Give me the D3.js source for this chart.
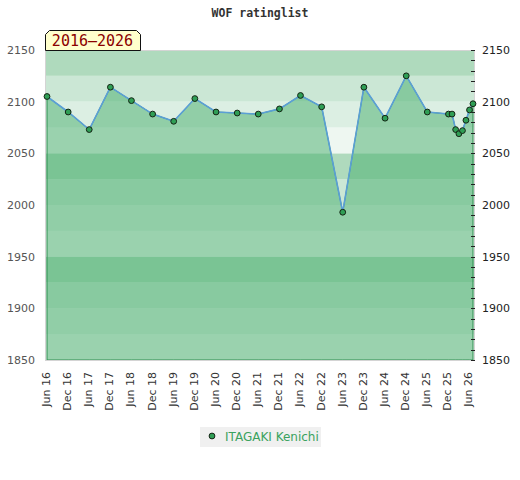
<!DOCTYPE html>
<html>
<head>
<meta charset="utf-8">
<script src="https://cdn.jsdelivr.net/npm/d3@7/dist/d3.min.js"></script>
<style>
html,body{margin:0;padding:0;background:#fff;}
svg{display:block;}
</style>
</head>
<body>
<svg id="chart" width="520" height="480"></svg>
<script>
// ---- data ----
const dates = ["2016-06","2016-12","2017-06","2017-12","2018-06","2018-12","2019-06","2019-12",
  "2020-06","2020-12","2021-06","2021-12","2022-06","2022-12","2023-06","2023-12","2024-06",
  "2024-12","2025-06","2025-12","2026-01","2026-02","2026-03","2026-04","2026-05","2026-06","2026-07"];
const ratings = [2105,2090,2073,2114,2101,2088,2081,2103,2090,2089,2088,2093,2106,2095,1993,2114,2084,
  2125,2090,2088,2088,2073,2069,2072,2082,2092,2098];
const xTickDates = ["2016-06","2016-12","2017-06","2017-12","2018-06","2018-12","2019-06","2019-12",
  "2020-06","2020-12","2021-06","2021-12","2022-06","2022-12","2023-06","2023-12","2024-06",
  "2024-12","2025-06","2025-12","2026-06"];
const xTickLabels = ["Jun 16","Dec 16","Jun 17","Dec 17","Jun 18","Dec 18","Jun 19","Dec 19",
  "Jun 20","Dec 20","Jun 21","Dec 21","Jun 22","Dec 22","Jun 23","Dec 23","Jun 24","Dec 24",
  "Jun 25","Dec 25","Jun 26"];
const yTickValues = [1850,1900,1950,2000,2050,2100,2150];
const playerName = "ITAGAKI Kenichi";
const chartTitle = "WOF ratinglist";
const periodLabel = "2016\u20132026";

// ---- setup ----
const parse = d3.timeParse("%Y-%m");
const pts = dates.map((d,i)=>({date:parse(d), r:ratings[i]}));
const svg = d3.select("#chart");

const pLeft = 47, pRight = 473, pTop = 50, pBottom = 360;
const x = d3.scaleTime().domain([parse(dates[0]), parse(dates[dates.length-1])]).range([pLeft, pRight]);
const y = d3.scaleLinear().domain([1850, 2150]).range([pBottom, pTop]);

// background bands (25-point steps)
const bandColors = ["#eef7f1","#dcefe3","#cbe7d5","#afdabd"];
const bands = d3.range(1850, 2150, 25);
svg.append("g").selectAll("rect").data(bands).join("rect")
  .attr("x", 45.5).attr("width", 429)
  .attr("y", d=>y(d+25)).attr("height", d=>y(d)-y(d+25))
  .attr("fill", d=>bandColors[((d-1850)/25)%4]);

// area
const area = d3.area().x(d=>x(d.date)).y0(y(1850)).y1(d=>y(d.r));
svg.append("path").datum(pts).attr("d", area)
  .attr("fill","rgba(70,173,107,0.5)")
  .attr("stroke","#2f8f50").attr("stroke-width",1);

// line
const line = d3.line().x(d=>x(d.date)).y(d=>y(d.r));
svg.append("path").datum(pts).attr("d", line)
  .attr("fill","none").attr("stroke","#5b9fd6").attr("stroke-width",1.6);

// plot border
svg.append("rect").attr("x",45.5).attr("y",50.5).attr("width",429).attr("height",310)
  .attr("fill","none").attr("stroke","#d4d4d4").attr("stroke-width",1);

// right axis minor ticks every 10
svg.append("g").selectAll("line").data(d3.range(1850, 2151, 10)).join("line")
  .attr("x1", pRight-2).attr("x2", pRight+2)
  .attr("y1", d=>Math.round(y(d))+0.5).attr("y2", d=>Math.round(y(d))+0.5)
  .attr("stroke","#222").attr("stroke-width",1);

// markers
svg.append("g").selectAll("circle").data(pts).join("circle")
  .attr("cx", d=>x(d.date)).attr("cy", d=>y(d.r)).attr("r", 2.9)
  .attr("fill","#2f9e55").attr("stroke","#142414").attr("stroke-width",1);

// y labels left and right
svg.append("g").selectAll("text").data(yTickValues).join("text")
  .attr("x", 35).attr("y", d=>y(d)).attr("dy","0.36em")
  .attr("text-anchor","end").attr("font-family","DejaVu Sans").attr("font-size","11px")
  .attr("fill","#555").text(d=>d);
svg.append("g").selectAll("text").data(yTickValues).join("text")
  .attr("x", 482).attr("y", d=>y(d)).attr("dy","0.36em")
  .attr("text-anchor","start").attr("font-family","DejaVu Sans").attr("font-size","11px")
  .attr("fill","#222").text(d=>d);

// x labels rotated
svg.append("g").selectAll("text").data(xTickDates).join("text")
  .attr("transform", d=>`translate(${x(parse(d))-1},372) rotate(-90)`)
  .attr("dy","0.36em").attr("text-anchor","end")
  .attr("font-family","DejaVu Sans").attr("font-size","11px").attr("fill","#333")
  .text((d,i)=>xTickLabels[i]);

// title
svg.append("text").attr("x",260).attr("y",17).attr("text-anchor","middle")
  .attr("font-family","DejaVu Sans Mono").attr("font-weight","bold").attr("font-size","11.5px")
  .attr("fill","#333").text(chartTitle);

// period label box
svg.append("path").attr("d","M45.5,50.5 L45.5,34.5 L49.5,30.5 L136.5,30.5 L140.5,34.5 L140.5,50.5 Z")
  .attr("fill","#ffffcc").attr("stroke","#111").attr("stroke-width",1);
svg.append("text").attr("x",92.5).attr("y",45.5).attr("text-anchor","middle")
  .attr("font-family","DejaVu Sans Mono").attr("font-size","15px").attr("fill","#8b0000")
  .text(periodLabel);

// legend
const lg = svg.append("g");
lg.append("rect").attr("x",200).attr("y",427).attr("width",121).attr("height",20).attr("fill","#f0f0f0");
lg.append("circle").attr("cx",212).attr("cy",436).attr("r",2.9)
  .attr("fill","#2f9e55").attr("stroke","#142414").attr("stroke-width",1);
lg.append("text").attr("x",225).attr("y",440.5)
  .attr("font-family","DejaVu Sans").attr("font-size","12px").attr("fill","#3aa25e")
  .text(playerName);
</script>
</body>
</html>
